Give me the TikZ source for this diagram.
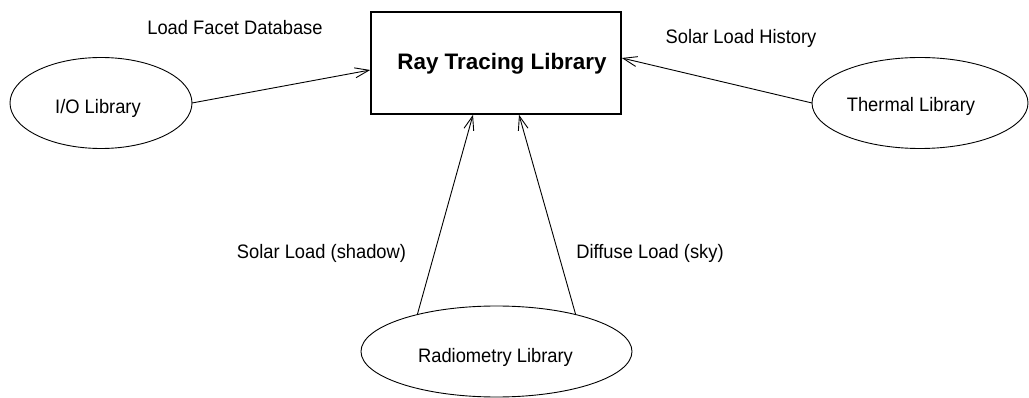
\documentclass[tikz,border=0pt]{standalone}
\usepackage{fontspec}
\setmainfont{Liberation Sans}
\newfontfamily\labelfont[FakeStretch=0.94]{Liberation Sans}
\usetikzlibrary{arrows.meta,shapes.geometric}
\begin{document}
\begin{tikzpicture}[x=1pt,y=-1pt,
  lib/.style={draw,ellipse,inner sep=0pt,outer sep=0pt,line width=0.9pt},
  txt/.style={anchor=base,inner sep=0pt,font=\labelfont\fontsize{19.5}{21}\selectfont},
  flow/.style={line width=0.9pt,-{Straight Barb[length=14pt,width=10pt,line width=0.9pt]}}]
\useasboundingbox (0,0) rectangle (1029,398);
% main box
\node (ray) [draw,line width=1.6pt,minimum width=250pt,minimum height=102pt,inner sep=0pt] at (496,63) {};
\node (raytxt) [anchor=base,inner sep=0pt,font=\bfseries\fontsize{22.4}{24}\selectfont] at (502,69.5) {Ray Tracing Library};
% libraries
\node (io) [lib,minimum width=182pt,minimum height=91pt] at (101,103) {};
\node (iotxt) [txt] at (98,114) {I/O Library};
\node (th) [lib,minimum width=216pt,minimum height=91pt] at (920,103) {};
\node (thtxt) [txt] at (911,112) {Thermal Library};
\node (rad) [lib,minimum width=271pt,minimum height=91pt] at (496.5,351.5) {};
\node (radtxt) [txt] at (495.5,362.5) {Radiometry Library};
% connectors
\draw[flow] (io.east) -- ([yshift=-7pt]ray.west);
\draw[flow] (th.west) -- ([yshift=5pt]ray.east);
\draw[flow] (rad.155) -- ([xshift=-23pt]ray.south);
\draw[flow] (rad.25.7) -- ([xshift=23pt]ray.south);
% labels
\node (l1) [txt] at (235,35) {Load Facet Database};
\node (l2) [txt] at (741,43.5) {Solar Load History};
\node (l3) [txt] at (321.5,258.5) {Solar Load (shadow)};
\node (l4) [txt] at (650,258.5) {Diffuse Load (sky)};
\end{tikzpicture}
\end{document}
